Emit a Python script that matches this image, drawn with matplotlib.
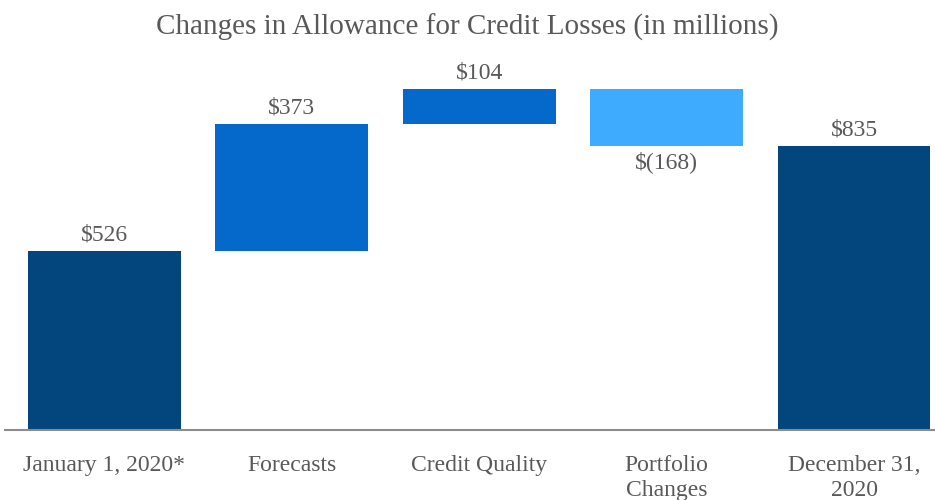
import matplotlib
matplotlib.use("Agg")
import matplotlib.pyplot as plt

# Allowance bridge, in millions
categories = ["January 1, 2020*", "Forecasts", "Credit Quality",
              "Portfolio\nChanges", "December 31,\n2020"]
opening = 526
changes = [373, 104, -168]
closing = 835

NAVY = "#02467D"
BLUE = "#0569CC"
LIGHT = "#3EABFF"
GREY = "#595959"

plt.rcParams["font.family"] = ["Liberation Serif", "DejaVu Serif"]

fig = plt.figure(figsize=(9.35, 5.0), dpi=100)
ax = fig.add_axes([0.005, 0.14, 0.995, 0.748])

bottoms = [0]
heights = [opening]
colors = [NAVY]
running = opening
for ch in changes:
    bottoms.append(min(running, running + ch))
    heights.append(abs(ch))
    colors.append(BLUE if ch > 0 else LIGHT)
    running += ch
bottoms.append(0)
heights.append(closing)
colors.append(NAVY)

x = list(range(len(categories)))
ax.bar(x, heights, bottom=bottoms, width=0.815, color=colors)

values = [opening] + changes + [closing]
for xi, b, h, v in zip(x, bottoms, heights, values):
    if v >= 0:
        ax.text(xi, b + h + 16, f"${v:,}", ha="center", va="bottom",
                fontsize=17, color=GREY)
    else:
        ax.text(xi, b - 16, f"$({-v:,})", ha="center", va="top",
                fontsize=17, color=GREY)

ax.set_xlim(-0.532, 4.432)
ax.set_ylim(0, 1100)
ax.set_xticks(x)
ax.set_xticklabels(categories, fontsize=17, color=GREY, linespacing=1.25)
ax.tick_params(axis="x", length=0, pad=18)
ax.set_yticks([])
for side in ("top", "right", "left"):
    ax.spines[side].set_visible(False)
ax.spines["bottom"].set_color("#8C8C8C")
ax.spines["bottom"].set_linewidth(1.5)

fig.text(0.5, 0.945, "Changes in Allowance for Credit Losses (in millions)",
         ha="center", va="center", fontsize=21, color=GREY)

fig.savefig("out.png", dpi=100)
